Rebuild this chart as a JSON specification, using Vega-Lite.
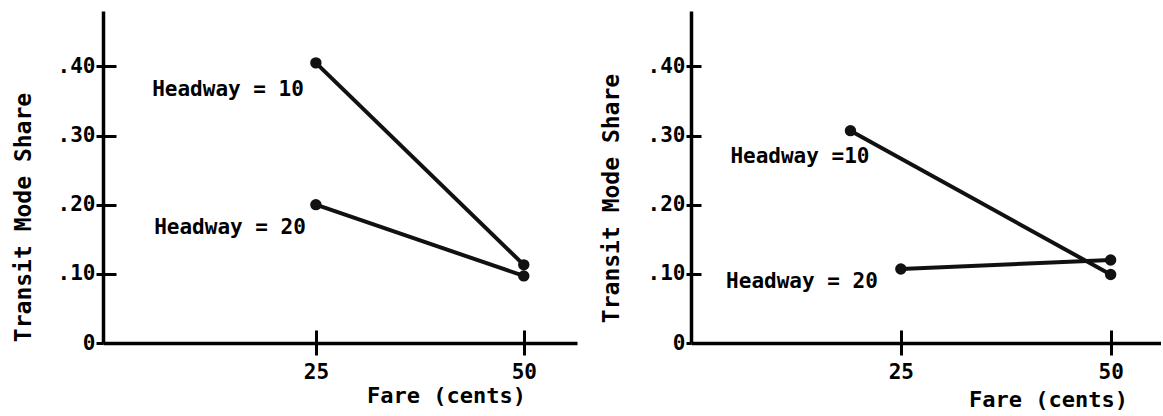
{
  "$schema": "https://vega.github.io/schema/vega-lite/v6.json",
  "background": "white",
  "padding": {"left": 12, "top": 11, "right": 0, "bottom": 0},
  "spacing": 23,
  "datasets": {
    "left": [
      {"fare": 25, "share": 0.405, "series": "Headway = 10"},
      {"fare": 50, "share": 0.113, "series": "Headway = 10"},
      {"fare": 25, "share": 0.2, "series": "Headway = 20"},
      {"fare": 50, "share": 0.097, "series": "Headway = 20"}
    ],
    "right": [
      {"fare": 19, "share": 0.307, "series": "Headway =10"},
      {"fare": 50, "share": 0.099, "series": "Headway =10"},
      {"fare": 25, "share": 0.107, "series": "Headway = 20"},
      {"fare": 50, "share": 0.12, "series": "Headway = 20"}
    ]
  },
  "config": {
    "view": {"stroke": null},
    "axis": {
      "grid": false,
      "domainColor": "#000",
      "domainWidth": 3.5,
      "tickColor": "#000",
      "tickWidth": 3,
      "labelFont": "DejaVu Sans Mono",
      "labelFontWeight": "bold",
      "labelFontSize": 21,
      "labelColor": "#000",
      "titleFont": "DejaVu Sans Mono",
      "titleFontWeight": "bold",
      "titleColor": "#000"
    },
    "text": {"font": "DejaVu Sans Mono", "fontWeight": "bold", "fontSize": 21, "color": "#000"}
  },
  "hconcat": [
    {
      "width": 474,
      "height": 332,
      "data": {"name": "left"},
      "resolve": {"axis": {"x": "independent", "y": "independent"}},
      "layer": [
        {
          "mark": {"type": "line", "color": "#111", "strokeWidth": 4},
          "encoding": {
            "x": {"field": "fare", "type": "quantitative",
              "scale": {"domain": [-0.6, 56.4], "nice": false, "zero": false},
              "axis": {"orient": "bottom", "values": [25, 50], "tickSize": 12, "labelPadding": 6, "labelFlush": false,
                "title": "Fare (cents)", "titleFontSize": 22, "titleX": 343, "titleY": 52,
                "titleAlign": "center", "titleBaseline": "middle"}},
            "y": {"field": "share", "type": "quantitative",
              "scale": {"domain": [0, 0.48], "nice": false},
              "axis": {"orient": "left", "values": [0, 0.1, 0.2, 0.3, 0.4],
                "labelExpr": "datum.value == 0 ? '0' : replace(format(datum.value, '.2f'), '0.', '.')",
                "tickSize": 7, "labelPadding": 1,
                "title": "Transit Mode Share", "titleFontSize": 23, "titleX": -80, "titleY": 206,
                "titleAlign": "center", "titleBaseline": "middle", "titleAngle": -90}},
            "detail": {"field": "series"}
          }
        },
        {
          "mark": {"type": "point", "filled": true, "color": "#111", "size": 130, "opacity": 1},
          "encoding": {
            "x": {"field": "fare", "type": "quantitative",
              "axis": {"orient": "bottom", "values": [25, 50], "offset": -13, "tickSize": 13, "labels": false, "domain": false, "title": null}},
            "y": {"field": "share", "type": "quantitative",
              "axis": {"orient": "left", "values": [0.1, 0.2, 0.3, 0.4], "offset": -13, "tickSize": 13, "labels": false, "domain": false, "title": null}}
          }
        },
        {"transform": [{"filter": "datum.series == 'Headway = 10' && datum.fare == 25"}],
          "mark": {"type": "text", "align": "right", "baseline": "middle", "dx": -12, "dy": 27},
          "encoding": {
            "x": {"field": "fare", "type": "quantitative", "axis": null},
            "y": {"field": "share", "type": "quantitative", "axis": null},
            "text": {"field": "series"}}},
        {"transform": [{"filter": "datum.series == 'Headway = 20' && datum.fare == 25"}],
          "mark": {"type": "text", "align": "right", "baseline": "middle", "dx": -10, "dy": 23},
          "encoding": {
            "x": {"field": "fare", "type": "quantitative", "axis": null},
            "y": {"field": "share", "type": "quantitative", "axis": null},
            "text": {"field": "series"}}}
      ]
    },
    {
      "width": 470,
      "height": 332,
      "data": {"name": "right"},
      "resolve": {"axis": {"x": "independent", "y": "independent"}},
      "layer": [
        {
          "mark": {"type": "line", "color": "#111", "strokeWidth": 4},
          "encoding": {
            "x": {"field": "fare", "type": "quantitative",
              "scale": {"domain": [0, 56], "nice": false, "zero": false},
              "axis": {"orient": "bottom", "values": [25, 50], "tickSize": 12, "labelPadding": 6, "labelFlush": false,
                "title": "Fare (cents)", "titleFontSize": 22, "titleX": 357, "titleY": 56,
                "titleAlign": "center", "titleBaseline": "middle"}},
            "y": {"field": "share", "type": "quantitative",
              "scale": {"domain": [0, 0.48], "nice": false},
              "axis": {"orient": "left", "values": [0, 0.1, 0.2, 0.3, 0.4],
                "labelExpr": "datum.value == 0 ? '0' : replace(format(datum.value, '.2f'), '0.', '.')",
                "tickSize": 5, "labelPadding": 1,
                "title": "Transit Mode Share", "titleFontSize": 23, "titleX": -80, "titleY": 187,
                "titleAlign": "center", "titleBaseline": "middle", "titleAngle": -90}},
            "detail": {"field": "series"}
          }
        },
        {
          "mark": {"type": "point", "filled": true, "color": "#111", "size": 130, "opacity": 1},
          "encoding": {
            "x": {"field": "fare", "type": "quantitative",
              "axis": {"orient": "bottom", "values": [25, 50], "offset": -13, "tickSize": 13, "labels": false, "domain": false, "title": null}},
            "y": {"field": "share", "type": "quantitative",
              "axis": {"orient": "left", "values": [0.1, 0.2, 0.3, 0.4], "offset": -10, "tickSize": 10, "labels": false, "domain": false, "title": null}}
          }
        },
        {"transform": [{"filter": "datum.series == 'Headway =10' && datum.fare == 19"}],
          "mark": {"type": "text", "align": "right", "baseline": "middle", "dx": 19, "dy": 26},
          "encoding": {
            "x": {"field": "fare", "type": "quantitative", "axis": null},
            "y": {"field": "share", "type": "quantitative", "axis": null},
            "text": {"field": "series"}}},
        {"transform": [{"filter": "datum.series == 'Headway = 20' && datum.fare == 25"}],
          "mark": {"type": "text", "align": "right", "baseline": "middle", "dx": -23, "dy": 13},
          "encoding": {
            "x": {"field": "fare", "type": "quantitative", "axis": null},
            "y": {"field": "share", "type": "quantitative", "axis": null},
            "text": {"field": "series"}}}
      ]
    }
  ]
}
